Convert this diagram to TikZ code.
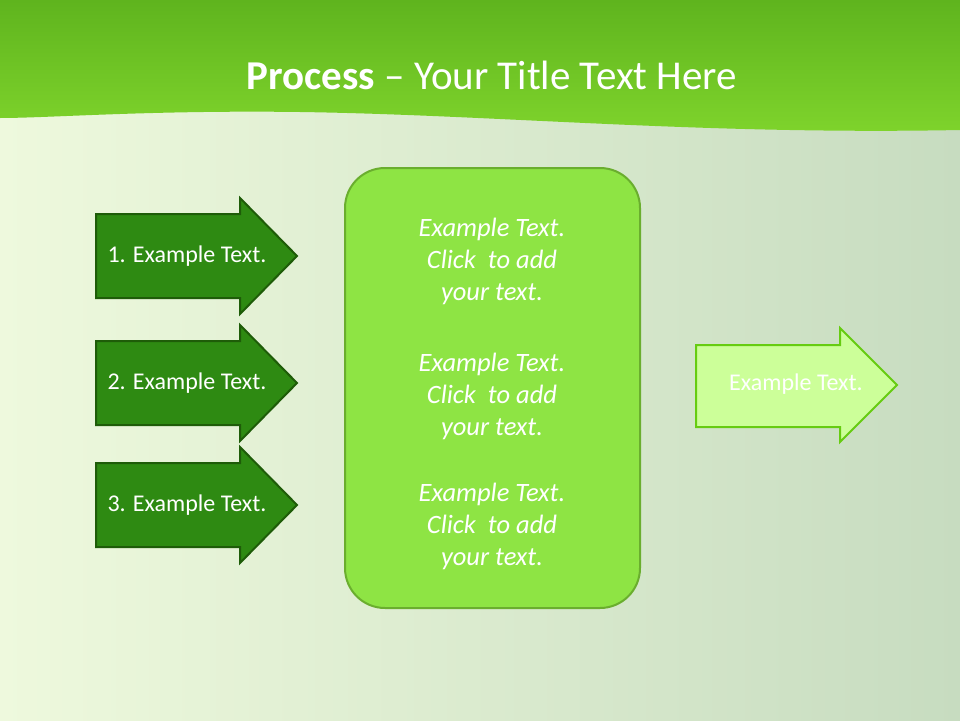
\documentclass[tikz,border=0pt]{standalone}
\usepackage{fontspec}
\setmainfont{Carlito}
\definecolor{bgL}{HTML}{EEF9DD}
\definecolor{bgR}{HTML}{C7DCC0}
\definecolor{topG}{HTML}{5FB41E}
\definecolor{botG}{HTML}{7FD42C}
\definecolor{darkA}{HTML}{2E8A12}
\definecolor{darkB}{HTML}{1E5C08}
\definecolor{midF}{HTML}{8EE444}
\definecolor{midB}{HTML}{6AAE2E}
\definecolor{lightF}{HTML}{CCFF99}
\definecolor{lightB}{HTML}{66CC11}
\tikzset{
 darrow/.style={fill=darkA,draw=darkB,line width=2pt},
 larrow/.style={fill=lightF,draw=lightB,line width=2pt},
 atext/.style={text=white,font=\fontsize{24}{28}\selectfont},
 mtext/.style={text=white,font=\itshape\fontsize{26.5}{32}\selectfont,align=center},
}
\begin{document}
\begin{tikzpicture}[x=1pt,y=-1pt]
\useasboundingbox (0,0) rectangle (960,720);
\shade[left color=bgL,right color=bgR] (0,0) rectangle (960,720);
\shade[top color=topG,bottom color=botG] (0,0) -- (960,0) -- (960,130) .. controls (700,135) and (500,115) .. (300,112) .. controls (150,110) and (50,118) .. (0,118) -- cycle;
\node[text=white,font=\fontsize{41}{46}\selectfont] (title) at (492,75) {\textbf{Process} – Your Title Text Here};
\foreach \c/\n in {256/1,383/2,505/3}{
 \draw[darrow] (96,\c-42) -- (240,\c-42) -- (240,\c-58) -- (297,\c) -- (240,\c+58) -- (240,\c+42) -- (96,\c+42) -- cycle;
 \node[atext] (a\n) at (187,\c) {\n. Example Text.};
}
\draw[fill=midF,draw=midB,line width=2pt,rounded corners=40pt] (345,168) rectangle (640,608);
\node[mtext] (m1) at (492,261) {Example Text.\\Click\ \ to add\\your text.};
\node[mtext] (m2) at (492,396) {Example Text.\\Click\ \ to add\\your text.};
\node[mtext] (m3) at (492,526) {Example Text.\\Click\ \ to add\\your text.};
\draw[larrow] (696,345) -- (840,345) -- (840,328) -- (897,385) -- (840,442) -- (840,427) -- (696,427) -- cycle;
\node[atext] (r) at (796,384) {Example Text.};
\end{tikzpicture}
\end{document}
